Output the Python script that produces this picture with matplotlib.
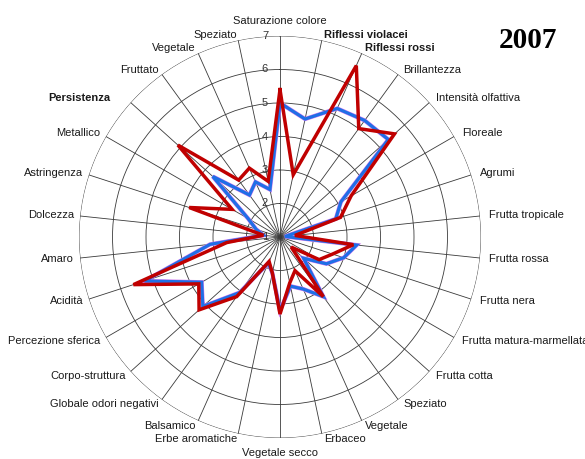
import numpy as np
import matplotlib.pyplot as plt
from matplotlib.transforms import offset_copy

plt.rcParams['font.family'] = ['Liberation Sans', 'DejaVu Sans']

categories = ['Saturazione colore', 'Riflessi violacei', 'Riflessi rossi', 'Brillantezza',
              'Intensità olfattiva', 'Floreale', 'Agrumi', 'Frutta tropicale', 'Frutta rossa',
              'Frutta nera', 'Frutta matura-marmellata', 'Frutta cotta', 'Speziato', 'Vegetale',
              'Erbaceo', 'Vegetale secco', 'Erbe aromatiche', 'Balsamico',
              'Globale odori negativi', 'Corpo-struttura', 'Percezione sferica', 'Acidità',
              'Amaro', 'Dolcezza', 'Astringenza', 'Metallico', 'Persistenza', 'Fruttato',
              'Vegetale', 'Speziato']
bold_labels = ['Riflessi violacei', 'Riflessi rossi', 'Persistenza']

red_series = [5.4, 2.9, 6.6, 5.0, 5.6, 3.45, 2.9, 1.45, 3.2, 2.65, 2.35, 1.45, 3.2, 2.1, 2.4,
              3.3, 2.1, 1.8, 3.2, 4.25, 3.8, 5.6, 2.6, 1.5, 3.85, 2.65, 5.1, 3.1, 3.25, 2.7]
blue_series = [5.0, 4.6, 5.2, 5.3, 5.35, 3.1, 2.75, 1.15, 3.3, 3.0, 2.6, 1.95, 3.2, 2.7, 2.5,
               3.2, 2.1, 1.85, 3.05, 4.1, 3.7, 5.25, 3.1, 1.5, 1.75, 2.1, 3.7, 2.55, 2.8, 2.45]
r_ticks = [1, 2, 3, 4, 5, 6, 7]
year = '2007'

n = len(categories)
theta = np.arange(n) * 2 * np.pi / n
theta_c = np.append(theta, theta[0])

fig = plt.figure(figsize=(5.85, 4.59), dpi=100)
ax = fig.add_axes([79 / 585, 21 / 459, 402 / 585, 402 / 459], polar=True)
ax.set_theta_zero_location('N')
ax.set_theta_direction(-1)
ax.set_ylim(r_ticks[0], r_ticks[-1])
ax.set_xticks(theta)
ax.set_xticklabels([])
ax.set_yticks(r_ticks[1:])
ax.set_yticklabels([])
ax.tick_params(length=0)
ax.grid(True, color='#3a3a3a', lw=0.6)
ax.spines['polar'].set_visible(False)

ax.plot(theta_c, np.append(blue_series, blue_series[0]), color='#d27cf0', lw=3.0,
        solid_joinstyle='miter', zorder=3)
ax.plot(theta_c, np.append(blue_series, blue_series[0]), color='#1f6fe6', lw=2.3,
        solid_joinstyle='miter', zorder=4)
ax.plot(theta_c, np.append(red_series, red_series[0]), color='#c00000', lw=2.5,
        solid_joinstyle='miter', zorder=5)

# radial value labels, just left of the top spoke
for r in r_ticks:
    ax.text(0, r, str(r), transform=offset_copy(ax.transData, fig, x=-15, y=0, units='dots'),
            ha='center', va='center', fontsize=8, color='#333333', zorder=6)

# category labels round the outside
for th, lab in zip(theta, categories):
    s, c = np.sin(th), np.cos(th)
    w = 'bold' if lab in bold_labels else 'normal'
    if abs(s) < 1e-6:
        dx, dy, ha = 0, 15 * np.sign(c), 'center'
    elif s > 0:
        dx, dy, ha = 9 * s, 6 * c, 'left'
    else:
        dx, dy, ha = 6 * s, 6 * c, 'right'
        if lab == 'Persistenza':
            dx -= 16
    ax.text(th, r_ticks[-1], lab, transform=offset_copy(ax.transData, fig, x=dx, y=dy, units='dots'),
            ha=ha, va='center', fontsize=8, fontweight=w, color='#1a1a1a')

fig.text(527.5 / 585, 1 - 40 / 459, year, ha='center', va='center',
         family='Liberation Serif', fontweight='bold', fontsize=21)

fig.savefig('out.png', dpi=100)
